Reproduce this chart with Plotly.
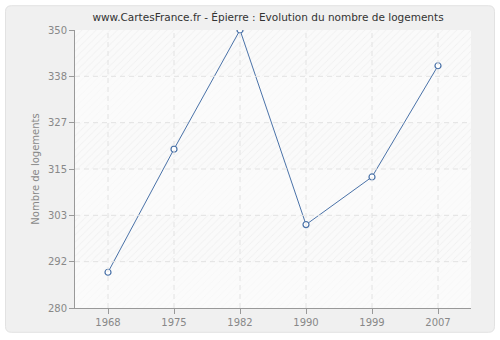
import plotly.graph_objects as go

years = ["1968", "1975", "1982", "1990", "1999", "2007"]
logements = [289, 320, 350, 301, 313, 341]
y_ticks = [280, 291.667, 303.333, 315, 326.667, 338.333, 350]
y_tick_labels = ["280", "292", "303", "315", "327", "338", "350"]

title = "www.CartesFrance.fr - Épierre : Evolution du nombre de logements"
y_title = "Nombre de logements"

W, H = 500, 340
ML, MR, MT, MB = 75, 29, 30, 30
PW, PH = W - ML - MR, H - MT - MB

xpos = list(range(len(years)))
ymin, ymax = y_ticks[0], y_ticks[-1]

def px2paper(px, py):
    return (px - ML) / PW, (H - MB - py) / PH

def rounded_rect(x0, y0, x1, y1, r):
    def p(x, y):
        a, b = px2paper(x, y)
        return f"{a:.5f},{b:.5f}"
    d = (f"M {p(x0 + r, y0)} L {p(x1 - r, y0)} Q {p(x1, y0)} {p(x1, y0 + r)} "
         f"L {p(x1, y1 - r)} Q {p(x1, y1)} {p(x1 - r, y1)} "
         f"L {p(x0 + r, y1)} Q {p(x0, y1)} {p(x0, y1 - r)} "
         f"L {p(x0, y0 + r)} Q {p(x0, y0)} {p(x0 + r, y0)} Z")
    return d

fig = go.Figure()

span = len(years)
center = (span - 1) / 2
# hatched plot background
fig.add_trace(go.Bar(
    x=[center], y=[ymax - ymin], base=[ymin], width=[span],
    marker=dict(color="#fafafa", line=dict(width=0),
                pattern=dict(shape="/", fgcolor="#e9e9e9", bgcolor="#fafafa",
                             size=5, solidity=0.18)),
    hoverinfo="skip", showlegend=False))
# lighter alternating bands
band_base = [y_ticks[i] for i in range(0, len(y_ticks) - 1, 2)]
band_h = [y_ticks[i + 1] - y_ticks[i] for i in range(0, len(y_ticks) - 1, 2)]
fig.add_trace(go.Bar(
    x=[center] * len(band_base), y=band_h, base=band_base, width=[span] * len(band_base),
    marker=dict(color="rgba(252,252,252,0.6)", line=dict(width=0)),
    hoverinfo="skip", showlegend=False))

fig.add_trace(go.Scatter(
    x=xpos, y=logements, mode="lines+markers",
    line=dict(color="#4a72a8", width=1),
    marker=dict(symbol="circle", size=6, color="white",
                line=dict(color="#4a72a8", width=1.2)),
    showlegend=False))

shapes = []
shapes.append(dict(type="path", xref="paper", yref="paper", layer="below",
                   path=rounded_rect(5.5, 5.5, 494.5, 334.5, 6),
                   fillcolor="#f0f0f0", line=dict(color="#e2e2e2", width=1)))
grid_style = dict(color="#e2e2e2", width=1, dash="5px,4px")
for v in y_ticks[1:-1]:
    shapes.append(dict(type="line", xref="x domain", yref="y", x0=0, x1=1, y0=v, y1=v,
                       layer="above", line=grid_style))
for xv in xpos:
    shapes.append(dict(type="line", xref="x", yref="y domain", x0=xv, x1=xv, y0=0, y1=1,
                       layer="above", line=grid_style))

fig.update_layout(
    width=W, height=H, autosize=False,
    margin=dict(l=ML, r=MR, t=MT, b=MB),
    paper_bgcolor="white", plot_bgcolor="#fafafa",
    barmode="overlay", bargap=0,
    shapes=shapes,
    title=dict(text=title, x=(268 - ML) / PW, xanchor="center", y=1 - 17 / H, yanchor="middle",
               xref="paper", yref="container",
               font=dict(family="DejaVu Sans", size=10.5, color="#333333")),
    font=dict(family="DejaVu Sans", size=10, color="#888888"),
    xaxis=dict(range=[-0.5, span - 0.5], tickvals=xpos, ticktext=years,
               showgrid=False, zeroline=False, showline=True, linecolor="#999999",
               linewidth=1, ticks="outside", ticklen=5, tickcolor="#999999",
               tickfont=dict(size=10, color="#888888")),
    yaxis=dict(range=[ymin, ymax], tickvals=y_ticks, ticktext=y_tick_labels,
               showgrid=False, zeroline=False, showline=True, linecolor="#999999",
               linewidth=1, ticks="outside", ticklen=5, tickcolor="#999999",
               tickfont=dict(size=10, color="#888888"),
               title=dict(text=y_title, standoff=6,
                          font=dict(size=10, color="#888888"))),
)

fig.write_html("out.html")
